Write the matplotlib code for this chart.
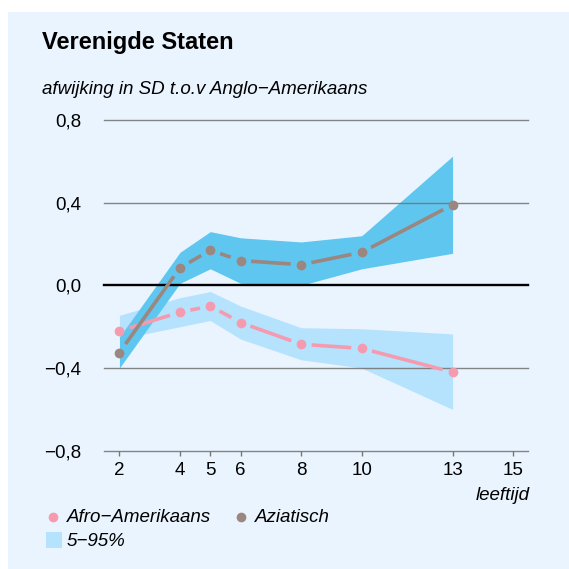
import numpy as np
import matplotlib
matplotlib.use("Agg")
import matplotlib.pyplot as plt
from matplotlib.lines import Line2D
from matplotlib.patches import Rectangle

plt.rcParams["font.family"] = ["Liberation Sans", "DejaVu Sans"]

# ── Data ─────────────────────────────────────────────────────────────────────
ages = [2, 4, 5, 6, 8, 10, 13]

afro = [-0.22, -0.13, -0.10, -0.18, -0.285, -0.305, -0.42]
afro_lo = [-0.26, -0.20, -0.17, -0.26, -0.36, -0.40, -0.60]
afro_hi = [-0.145, -0.06, -0.03, -0.10, -0.205, -0.21, -0.235]

azi = [-0.325, 0.085, 0.17, 0.12, 0.10, 0.16, 0.39]
azi_lo = [-0.40, 0.01, 0.08, 0.01, 0.00, 0.08, 0.155]
azi_hi = [-0.25, 0.16, 0.26, 0.23, 0.21, 0.24, 0.625]

x_ticks = [2, 4, 5, 6, 8, 10, 13, 15]
y_ticks = [-0.8, -0.4, 0.0, 0.4, 0.8]
y_labels = ["\u22120,8", "\u22120,4", "0,0", "0,4", "0,8"]

# ── Colours ──────────────────────────────────────────────────────────────────
PANEL = "#EAF4FE"
BAND_AZI = "#5EC6EF"
BAND_AFRO = "#B5E2FC"
PINK = "#F59BB0"
GREY = "#9B8680"
GRID = "#777777"

W = 569
FS = 13.5
fig = plt.figure(figsize=(W / 100, W / 100), dpi=100, facecolor="white")
fig.add_artist(Rectangle((8 / W, 0), 1, 1 - 12 / W, transform=fig.transFigure,
                         facecolor=PANEL, edgecolor="none", zorder=0))

ax = fig.add_axes([104.3 / W, 1 - 450.7 / W, 424 / W, 330.7 / W])
ax.set_facecolor("none")
ax.set_xlim(1.5, 15.5)
ax.set_ylim(-0.8, 0.8)
for s in ax.spines.values():
    s.set_visible(False)

# bands
ax.fill_between(ages, afro_lo, afro_hi, color=BAND_AFRO, lw=0, zorder=1)
ax.fill_between(ages, azi_lo, azi_hi, color=BAND_AZI, lw=0, zorder=1.1)

# grid lines
for v in y_ticks:
    if v == 0:
        ax.axhline(v, color="black", lw=1.7, zorder=2, clip_on=False)
    else:
        ax.axhline(v, color=GRID, lw=1.0, alpha=0.9, zorder=2, clip_on=False)

ax.set_yticks(y_ticks)
ax.set_yticklabels(y_labels, fontsize=FS)
ax.tick_params(axis="y", length=0, pad=16.5)
ax.set_xticks(x_ticks)
ax.set_xticklabels([str(t) for t in x_ticks], fontsize=FS)
ax.tick_params(axis="x", length=3.3, width=1.0, color=GRID, pad=5)


def gapped_line(x, y, color, gap=10.5, lw=2.6, ms=7):
    # segments stop short of each point, like R's type = "b"
    pts = ax.transData.transform(np.column_stack([x, y]))
    inv = ax.transData.inverted()
    for p0, p1 in zip(pts[:-1], pts[1:]):
        d = p1 - p0
        n = np.hypot(*d)
        if n <= 2 * gap:
            continue
        u = d / n
        a, b = inv.transform([p0 + u * gap, p1 - u * gap])
        ax.plot([a[0], b[0]], [a[1], b[1]], color=color, lw=lw,
                solid_capstyle="butt", zorder=3)
    ax.plot(x, y, ls="none", marker="o", ms=ms, color=color, mec="none", zorder=4)


gapped_line(ages, afro, PINK)
gapped_line(ages, azi, GREY)

# ── Text ─────────────────────────────────────────────────────────────────────
fig.text(42 / W, 1 - 43 / W, "Verenigde Staten", fontsize=17, fontweight="bold",
         va="center", ha="left")
fig.text(42 / W, 1 - 90 / W, "afwijking in SD t.o.v Anglo\u2212Amerikaans",
         fontsize=13.5, style="italic", va="center", ha="left")
fig.text(530 / W, 1 - 496 / W, "leeftijd", fontsize=FS, style="italic",
         va="center", ha="right")

# legend
fig.add_artist(Line2D([53 / W], [1 - 517 / W], transform=fig.transFigure,
                      marker="o", ms=7, color=PINK, mec="none", ls="none"))
fig.text(67 / W, 1 - 517 / W, "Afro\u2212Amerikaans", fontsize=FS, style="italic",
         va="center", ha="left")
fig.add_artist(Line2D([241 / W], [1 - 517 / W], transform=fig.transFigure,
                      marker="o", ms=7, color=GREY, mec="none", ls="none"))
fig.text(255 / W, 1 - 517 / W, "Aziatisch", fontsize=FS, style="italic",
         va="center", ha="left")
fig.add_artist(Rectangle((46 / W, 1 - 548 / W), 16 / W, 16 / W,
                         transform=fig.transFigure, facecolor=BAND_AFRO,
                         edgecolor="none"))
fig.text(67 / W, 1 - 541 / W, "5\u221295%", fontsize=FS, style="italic",
         va="center", ha="left")

fig.savefig("out.png", dpi=100)
